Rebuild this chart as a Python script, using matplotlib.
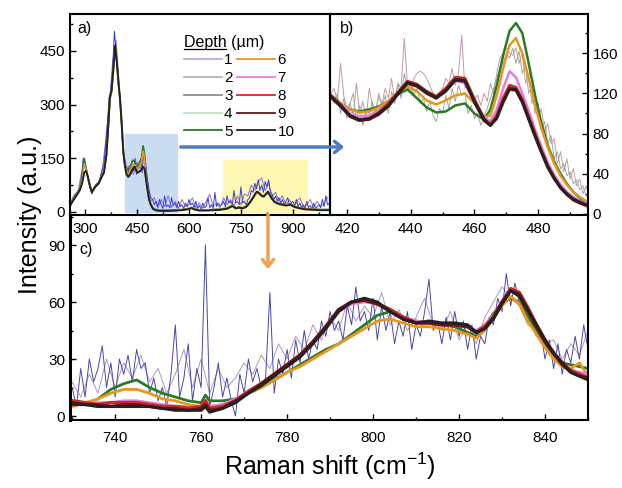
import numpy as np
import matplotlib
matplotlib.use('Agg')
import matplotlib.pyplot as plt
from matplotlib.lines import Line2D
from matplotlib.patches import Rectangle, FancyArrowPatch
from matplotlib.ticker import MultipleLocator

plt.rcParams['font.family'] = ['Liberation Sans', 'DejaVu Sans']
plt.rcParams['mathtext.fontset'] = 'custom'
plt.rcParams['mathtext.rm'] = 'Liberation Sans'
plt.rcParams['mathtext.it'] = 'Liberation Sans:italic'

# depth labels and colours (um)
depths = ['1', '2', '3', '4', '5', '6', '7', '8', '9', '10']
colors = ['#c4a6d6', '#b4b4b4', '#8e8e96', '#b8e6c0', '#2a7a2a',
          '#e8961e', '#e47ce4', '#cc2a2a', '#6a1414', '#222222']

# ---- panel a : full spectrum ----
shift_a = [257, 265, 275, 285, 292, 298, 303, 308, 315, 320,
           330, 340, 348, 355, 362, 368, 372, 377, 382, 387,
           392, 397, 401, 406, 411, 416, 420, 425, 432, 438,
           444, 450, 456, 463, 468, 472, 475, 480, 485, 490,
           497, 507, 520, 540, 560, 580, 600, 608, 615, 630,
           650, 670, 690, 710, 720, 727, 735, 745, 755, 765,
           775, 785, 792, 796, 800, 805, 810, 816, 822, 828,
           833, 840, 847, 853, 860, 870, 880, 892, 905, 920,
           940, 960, 980, 1005]
black_a = [17, 30, 45, 60, 80, 110, 115, 100, 70, 55,
           70, 80, 97, 110, 160, 250, 321, 340, 400, 465,
           420, 360, 321, 250, 165, 125, 105, 98, 108, 120,
           126, 110, 112, 118, 126, 120, 100, 65, 35, 20,
           8, 4, 3, 3, 4, 5, 8, 11, 7, 4,
           4, 5, 6, 9, 14, 16, 10, 12, 10, 14,
           25, 40, 52, 57, 55, 50, 45, 43, 50, 57,
           48, 36, 28, 25, 22, 20, 18, 20, 14, 10,
           7, 6, 5, 5]
green_a = [20, 35, 50, 65, 95, 150, 125, 100, 72, 58,
           72, 82, 100, 115, 158, 245, 315, 335, 395, 460,
           420, 355, 315, 245, 165, 130, 120, 110, 130, 145,
           140, 125, 135, 150, 185, 160, 110, 70, 38, 22,
           10, 6, 5, 5, 6, 7, 10, 13, 9, 6,
           6, 7, 8, 11, 17, 18, 12, 14, 12, 16,
           27, 40, 50, 55, 54, 50, 46, 45, 50, 55,
           48, 38, 30, 27, 24, 22, 20, 22, 16, 12,
           9, 8, 7, 7]
orange_a = [18, 32, 48, 62, 88, 135, 120, 100, 70, 56,
            71, 81, 99, 112, 159, 248, 318, 338, 398, 462,
            420, 358, 318, 248, 165, 128, 115, 105, 120, 135,
            132, 118, 125, 140, 170, 150, 105, 68, 36, 21,
            9, 5, 4, 4, 5, 6, 9, 12, 8, 5,
            5, 6, 7, 10, 16, 17, 11, 13, 11, 15,
            26, 38, 48, 53, 52, 48, 44, 43, 48, 53,
            46, 37, 29, 26, 23, 21, 19, 21, 15, 11,
            8, 7, 6, 6]
# noisy single spectra, 5 cm-1 steps from 255
noisy_blue_a = [20, 25, 35, 45, 50, 60, 65, 95, 150, 125,
                110, 90, 70, 50, 65, 75, 80, 78, 100, 120,
                135, 190, 250, 320, 330, 400, 505, 450, 380, 330,
                260, 180, 130, 110, 125, 100, 140, 115, 150, 105,
                130, 145, 110, 175, 140, 95, 60, 40, 35, 20,
                30, 15, 35, 20, 10, 45, 15, 20, 12, 40,
                18, 25, 12, 30, 15, 20, 10, 25, 15, 35,
                20, 25, 12, 30, 10, 18, 8, 25, 12, 15,
                40, 12, 20, 10, 55, 15, 25, 18, 20, 30,
                15, 45, 25, 30, 20, 60, 25, 30, 20, 70,
                25, 30, 20, 35, 40, 60, 55, 80, 65, 90,
                60, 75, 55, 85, 70, 90, 55, 50, 35, 45,
                30, 40, 25, 35, 20, 30, 40, 20, 25, 30,
                18, 35, 15, 25, 12, 20, 10, 30, 12, 18,
                8, 25, 10, 15, 20, 12, 35, 15, 45, 20,
                25]
# 10 cm-1 steps from 260
noisy_purple_a = [30, 50, 55, 110, 140, 85, 55, 70, 85, 115,
                  200, 300, 420, 480, 340, 170, 125, 130, 105, 140,
                  120, 160, 90, 30, 40, 10, 35, 15, 45, 12,
                  30, 10, 35, 15, 20, 40, 12, 25, 10, 30,
                  50, 15, 25, 12, 40, 20, 35, 15, 45, 20,
                  50, 45, 75, 60, 85, 95, 60, 80, 45, 55,
                  30, 45, 20, 35, 15, 25, 40, 15, 20, 35,
                  12, 30, 15, 25, 40]

# ---- panel b : 415-496 cm-1 ----
shift_b = [415, 418, 421, 424, 427, 430, 433, 436, 439, 442, 445,
           448, 451, 454, 457, 460, 463, 465, 467, 469, 471, 473,
           475, 477, 479, 481, 483, 485, 487, 489, 491, 493, 496]
green_b = [118, 110, 104, 102, 104, 107, 112, 119, 124, 115, 106,
           101, 102, 108, 110, 100, 94, 104, 128, 158, 182, 190,
           180, 150, 118, 90, 68, 52, 40, 30, 22, 16, 10]
orange_b = [118, 110, 104, 101, 102, 106, 112, 121, 127, 122, 113,
            109, 113, 118, 120, 110, 96, 98, 118, 145, 168, 175,
            160, 135, 108, 85, 66, 50, 38, 29, 22, 17, 11]
pink_b = [116, 110, 100, 97, 98, 103, 110, 121, 130, 127, 120,
          116, 124, 133, 130, 112, 96, 92, 104, 125, 142, 136,
          120, 103, 84, 67, 51, 39, 29, 22, 17, 13, 9]
red_b = [118, 109, 97, 93, 95, 101, 110, 121, 132, 129, 122,
         117, 125, 136, 135, 114, 95, 89, 98, 115, 128, 126,
         114, 97, 80, 63, 48, 36, 27, 20, 14, 11, 7]
darkred_b = [116, 107, 97, 93, 94, 99, 107, 119, 130, 127, 120,
             115, 122, 133, 132, 111, 93, 88, 95, 111, 124, 123,
             111, 94, 77, 61, 46, 35, 26, 19, 14, 11, 8]
black_b = [117, 108, 98, 94, 95, 100, 108, 120, 131, 128, 121,
           116, 123, 134, 133, 112, 94, 88, 96, 112, 125, 124,
           112, 95, 78, 62, 47, 36, 26, 20, 15, 12, 8]
# single noisy spectra, 1 cm-1 steps from 415
noisy1_b = [120, 125, 112, 150, 118, 105, 110, 98, 130, 100,
            112, 95, 125, 108, 102, 118, 110, 125, 115, 135,
            112, 130, 125, 175, 128, 120, 135, 140, 142, 140,
            135, 128, 120, 115, 118, 125, 135, 130, 145, 128,
            140, 178, 125, 130, 120, 115, 118, 108, 120, 112,
            130, 120, 140, 155, 160, 165, 160, 158, 165, 150,
            160, 130, 140, 110, 120, 95, 105, 80, 90, 70,
            75, 50, 62, 42, 55, 35, 45, 28, 35, 20,
            28, 15]
noisy2_b = [118, 110, 120, 100, 115, 95, 110, 120, 92, 108,
            88, 105, 100, 112, 98, 120, 105, 118, 100, 122,
            110, 130, 115, 140, 122, 130, 118, 125, 110, 115,
            102, 112, 98, 92, 105, 100, 118, 105, 125, 112,
            128, 118, 120, 100, 108, 95, 100, 88, 98, 105,
            115, 125, 135, 145, 150, 160, 155, 165, 150, 162,
            140, 148, 120, 128, 100, 110, 85, 92, 70, 78,
            55, 62, 45, 50, 38, 42, 30, 34, 24, 28,
            18, 14]

# ---- panel c : 730-850 cm-1 ----
shift_c = [730, 733, 736, 739, 742, 745, 748, 751, 754, 757,
           760, 761, 762, 765, 768, 771, 774, 777, 780, 783,
           786, 789, 792, 795, 798, 801, 804, 807, 810, 813,
           816, 819, 822, 824, 826, 828, 830, 832, 834, 836,
           838, 840, 842, 844, 846, 848, 850]
green_c = [np.nan, np.nan, 9, 14, 17, 19, 15, 12, 10, 8,
           7, 11, 8, 8, 9, 12, 15, 19, 23, 27,
           31, 35, 38, 43, 48, 53, 55, 52, 50, 49,
           48, 47, 44, 42, 47, 54, 59, 62, 60, 52,
           45, 38, 32, 28, 27, 26, 25]
orange_c = [5, 7, 9, 12, 14, 14, 12, 9, 8, 6,
            5, 8, 5, 6, 8, 12, 15, 19, 23, 26,
            30, 34, 38, 42, 46, 50, 51, 49, 47, 47,
            46, 45, 43, 41, 45, 52, 58, 63, 59, 50,
            43, 36, 30, 26, 25, 28, 21]
pink_c = [7, 7, 7, 7, 8, 8, 7, 6, 5, 5,
          5, 7, 5, 6, 9, 13, 17, 22, 27, 32,
          39, 47, 55, 59, 60, 59, 56, 52, 50, 49,
          48, 48, 47, 45, 48, 53, 60, 66, 64, 56,
          48, 40, 34, 28, 24, 23, 22]
red_c = [8, 7, 6, 7, 7, 7, 6, 5, 5, 4,
         5, 8, 4, 5, 8, 13, 17, 22, 27, 32,
         39, 47, 56, 60, 61, 59, 56, 52, 49, 49,
         48, 48, 47, 44, 47, 52, 60, 67, 65, 57,
         48, 40, 33, 28, 24, 22, 20]
darkred_c = [6, 6, 6, 5, 6, 6, 5, 4, 4, 3,
             4, 6, 3, 4, 8, 12, 17, 22, 27, 32,
             39, 47, 56, 60, 61, 59, 55, 51, 49, 49,
             48, 48, 47, 44, 46, 52, 60, 66, 63, 55,
             47, 39, 33, 27, 23, 21, 20]
black_c = [7, 6, 5, 5, 5, 5, 5, 4, 3, 3,
           3, 5, 2, 4, 7, 12, 16, 21, 26, 31,
           38, 46, 55, 60, 62, 60, 55, 51, 49, 50,
           49, 49, 48, 44, 46, 51, 59, 66, 64, 56,
           48, 40, 33, 28, 23, 21, 19]
# 1 cm-1 steps from 730
noisy1_c = [15, 5, 25, 10, 30, 18, 25, 37, 15, 28,
            10, 30, 22, 32, 18, 35, 25, 28, 12, 20,
            8, 15, 5, 22, 48, 10, 20, 38, 8, 25,
            15, 90, 5, 15, 28, 10, 20, 8, 0, 22,
            12, 30, 18, 25, 15, 20, 65, 12, 30, 22,
            35, 20, 40, 28, 45, 30, 40, 35, 50, 42,
            55, 45, 50, 40, 58, 48, 68, 50, 55, 45,
            62, 40, 58, 45, 55, 38, 50, 42, 55, 35,
            48, 42, 55, 72, 45, 50, 38, 52, 40, 55,
            42, 50, 35, 48, 30, 42, 38, 52, 48, 62,
            55, 75, 58, 70, 60, 55, 50, 48, 42, 45,
            30, 40, 25, 38, 22, 35, 28, 42, 30, 48,
            35]
# 2 cm-1 steps from 730
noisy2_c = [18, 10, 22, 12, 30, 15, 28, 20, 32, 18,
            25, 12, 22, 35, 15, 30, 12, 25, 15, 20,
            28, 22, 32, 25, 38, 30, 42, 35, 48, 40,
            52, 45, 60, 50, 58, 52, 65, 48, 56, 45,
            52, 62, 48, 45, 55, 40, 48, 38, 52, 60,
            68, 62, 58, 48, 45, 38, 40, 30, 38, 32,
            45]

fig = plt.figure(figsize=(6.22, 4.88), dpi=100)
W, H = 622.0, 488.0
ax_c = fig.add_axes([70 / W, 1 - 420 / H, 518 / W, 205 / H])
ax_a = fig.add_axes([70 / W, 1 - 215 / H, 260 / W, 201 / H])
ax_b = fig.add_axes([330 / W, 1 - 215 / H, 258 / W, 201 / H])
ax_c.set_zorder(0)
ax_a.set_zorder(2)
ax_b.set_zorder(2)
ax_a.patch.set_alpha(0)
ax_b.patch.set_alpha(0)

tick_fs = 11

# panel a
ax_a.add_patch(Rectangle((415, 0), 150, 218, color='#c9dcf1', zorder=0))
ax_a.add_patch(Rectangle((698, 0), 243, 145, color='#fff7b4', zorder=0))
x_blue = 255 + 5 * np.arange(len(noisy_blue_a))
x_purple = 260 + 10 * np.arange(len(noisy_purple_a))
ax_a.plot(x_purple, noisy_purple_a, color='#9a6cc8', lw=0.7)
ax_a.plot(x_blue, noisy_blue_a, color='#3340d8', lw=0.7)
ax_a.plot(shift_a, green_a, color=colors[4], lw=1.2)
ax_a.plot(shift_a, orange_a, color=colors[5], lw=1.2)
ax_a.plot(shift_a, black_a, color=colors[9], lw=1.4)
ax_a.set_xlim(257, 1007)
ax_a.set_ylim(-8.4, 553)
ax_a.xaxis.set_major_locator(MultipleLocator(150))
ax_a.xaxis.set_minor_locator(MultipleLocator(75))
ax_a.yaxis.set_major_locator(MultipleLocator(150))
ax_a.yaxis.set_minor_locator(MultipleLocator(75))
ax_a.text(0.03, 0.93, 'a)', transform=ax_a.transAxes, fontsize=11.5, va='center')

# panel b
x1b = 415 + np.arange(len(noisy1_b))
x2b = 415 + np.arange(len(noisy2_b))
ax_b.plot(x1b, noisy1_b, color='#c49aa2', lw=0.7)
ax_b.plot(x2b, noisy2_b, color='#9aab9a', lw=0.7)
ax_b.plot(shift_b, green_b, color=colors[4], lw=1.8)
ax_b.plot(shift_b, orange_b, color=colors[5], lw=1.8)
ax_b.plot(shift_b, pink_b, color=colors[6], lw=1.8)
ax_b.plot(shift_b, red_b, color=colors[7], lw=2.2)
ax_b.plot(shift_b, darkred_b, color=colors[8], lw=2.0)
ax_b.plot(shift_b, black_b, color=colors[9], lw=2.0)
ax_b.set_xlim(414.7, 495.6)
ax_b.set_ylim(-1, 199)
ax_b.xaxis.set_major_locator(MultipleLocator(20))
ax_b.xaxis.set_minor_locator(MultipleLocator(10))
ax_b.yaxis.set_major_locator(MultipleLocator(40))
ax_b.yaxis.set_minor_locator(MultipleLocator(20))
ax_b.yaxis.tick_right()
ax_b.text(0.04, 0.93, 'b)', transform=ax_b.transAxes, fontsize=11.5, va='center')

# panel c
x1c = 730 + np.arange(len(noisy1_c))
x2c = 730 + 2 * np.arange(len(noisy2_c))
ax_c.plot(x2c, noisy2_c, color='#a898c8', lw=0.7)
ax_c.plot(x1c, noisy1_c, color='#4848a8', lw=0.7)
ax_c.plot(shift_c, green_c, color=colors[4], lw=2.0)
ax_c.plot(shift_c, orange_c, color=colors[5], lw=2.0)
ax_c.plot(shift_c, pink_c, color=colors[6], lw=2.0)
ax_c.plot(shift_c, red_c, color=colors[7], lw=2.6)
ax_c.plot(shift_c, darkred_c, color=colors[8], lw=2.2)
ax_c.plot(shift_c, black_c, color=colors[9], lw=2.2)
ax_c.set_xlim(729.5, 850)
ax_c.set_ylim(-2.1, 105.8)
ax_c.xaxis.set_major_locator(MultipleLocator(20))
ax_c.xaxis.set_minor_locator(MultipleLocator(10))
ax_c.yaxis.set_major_locator(MultipleLocator(30))
ax_c.yaxis.set_minor_locator(MultipleLocator(15))
ax_c.spines['top'].set_visible(False)
ax_c.text(0.018, 0.83, 'c)', transform=ax_c.transAxes, fontsize=11.5, va='center')

for ax in (ax_a, ax_b, ax_c):
    for s in ax.spines.values():
        s.set_linewidth(1.5)
    ax.tick_params(which='both', direction='in', labelsize=tick_fs, width=1)
    ax.tick_params(which='major', length=4)
    ax.tick_params(which='minor', length=2)
ax_c.spines['left'].set_linewidth(2.2)
ax_c.tick_params(which='both', top=False, right=False)
ax_c.tick_params(axis='x', pad=8)
ax_b.tick_params(which='both', left=False, top=False)
ax_b.tick_params(axis='x', pad=5)
ax_a.tick_params(which='both', top=False, right=False)
ax_a.tick_params(axis='x', pad=5)

# legend
handles = [Line2D([], [], color=c, lw=1.3) for c in colors]
leg = ax_a.legend(handles, depths, ncol=2, loc='upper left',
                  bbox_to_anchor=(176 / W, 1 - 27 / H), bbox_transform=fig.transFigure,
                  frameon=False, fontsize=11, handlelength=2.5, handletextpad=0.15,
                  columnspacing=0.3, labelspacing=0.25, borderpad=0,
                  title='Depth (µm)', title_fontsize=11.5, alignment='left')

# underline the word "Depth" in the legend title
fig.canvas.draw()
renderer = fig.canvas.get_renderer()
tb = leg.get_title().get_window_extent(renderer)
tmp = fig.text(0, 0, 'Depth', fontsize=11.5)
wd = tmp.get_window_extent(renderer).width
tmp.remove()
fig.add_artist(Line2D([tb.x0 / W, (tb.x0 + wd) / W], [(tb.y0 + 1) / H, (tb.y0 + 1) / H],
                      transform=fig.transFigure, color='black', lw=0.9))

# arrows between panels
fig.patches.append(FancyArrowPatch((178 / W, 1 - 147 / H), (347 / W, 1 - 147 / H),
                                   transform=fig.transFigure, arrowstyle='->,head_length=5,head_width=4',
                                   color='#4a7cc0', lw=2.5, zorder=10))
fig.patches.append(FancyArrowPatch((268 / W, 1 - 212 / H), (268 / W, 1 - 272 / H),
                                   transform=fig.transFigure, arrowstyle='->,head_length=5,head_width=4',
                                   color='#f2a058', lw=2.5, zorder=10))

fig.text(30 / W, 1 - 215 / H, 'Intensity (a.u.)', rotation=90, ha='center', va='center', fontsize=18)
fig.text(330 / W, 1 - 466 / H, 'Raman shift (cm$^{-1}$)', ha='center', va='center', fontsize=18)

fig.savefig('out.png', dpi=100)
